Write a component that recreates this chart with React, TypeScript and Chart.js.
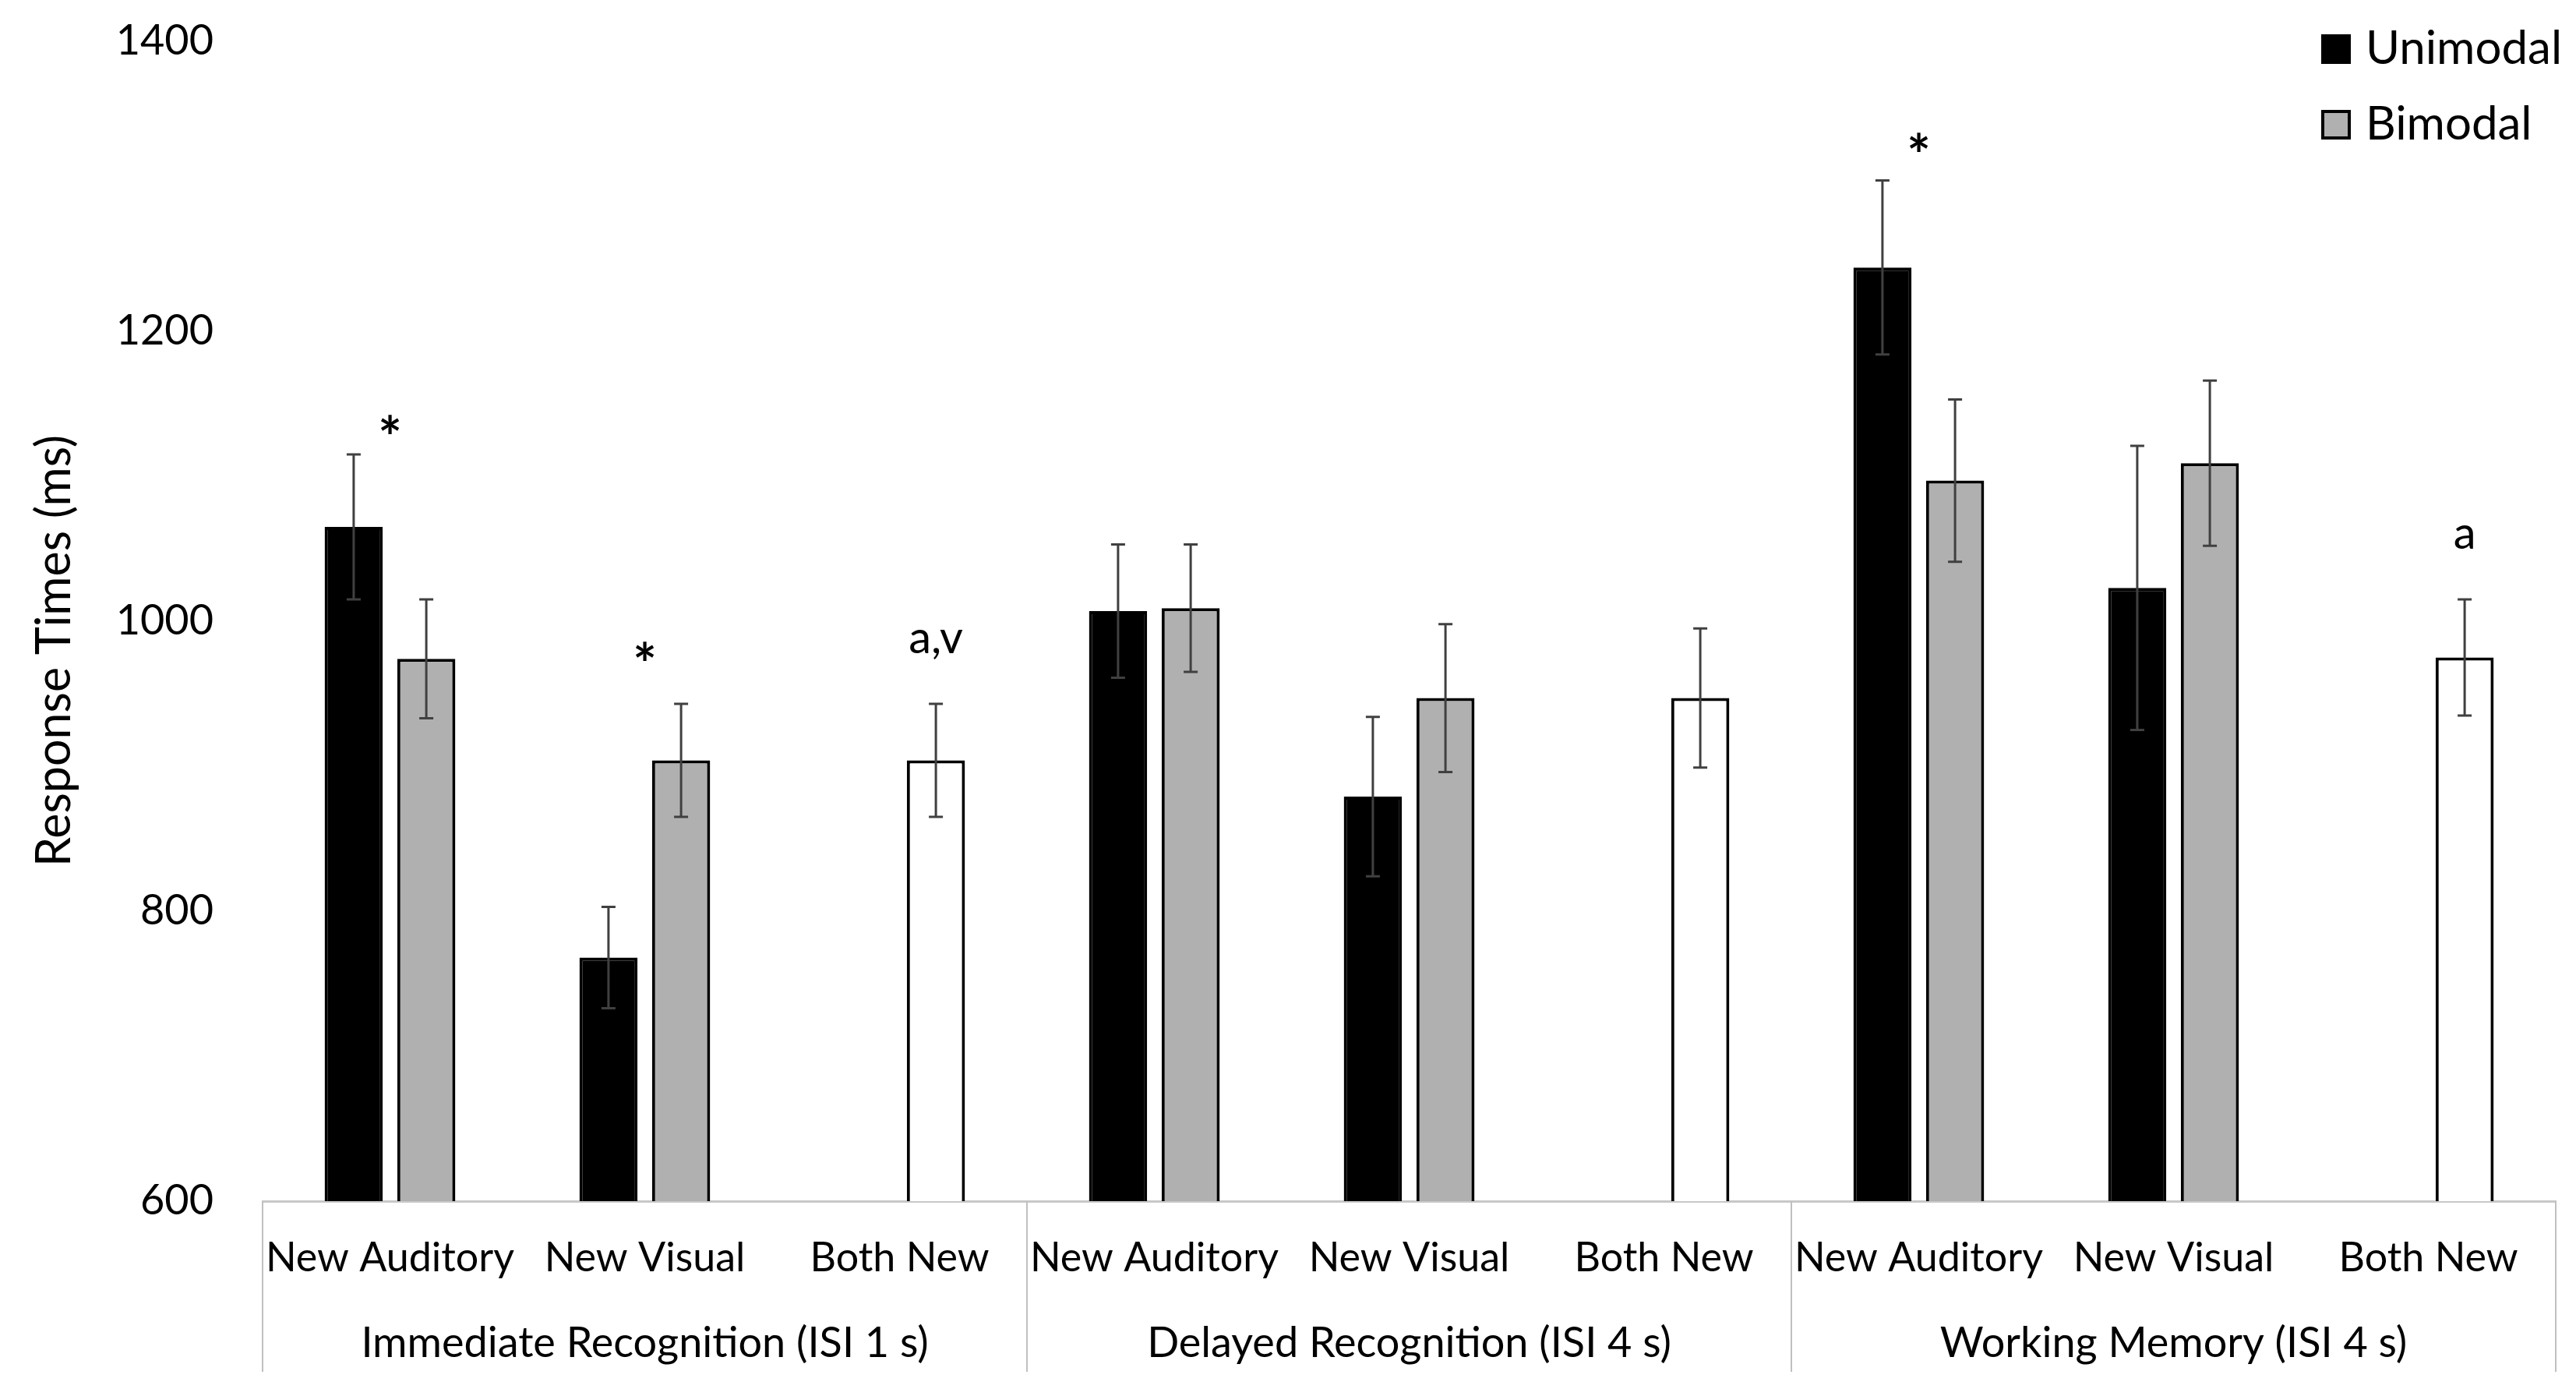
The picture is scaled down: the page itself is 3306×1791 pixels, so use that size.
import { useEffect, useRef } from 'react';
import { Chart, registerables } from 'chart.js';

Chart.register(...registerables);

const conditions = [
  'New Auditory', 'New Visual', 'Both New',
  'New Auditory', 'New Visual', 'Both New',
  'New Auditory', 'New Visual', 'Both New',
];
const groups = [
  'Immediate Recognition (ISI 1 s)',
  'Delayed Recognition (ISI 4 s)',
  'Working Memory (ISI 4 s)',
];
const unimodal = [1065, 768, null, 1007, 879, null, 1244, 1023, null];
const unimodalErr = [50, 35, null, 46, 55, null, 60, 98, null];
// "Both New" bars sit in the bimodal slot and are drawn white
const bimodal = [974, 904, 904, 1009, 947, 947, 1097, 1109, 975];
const bimodalErr = [41, 39, 39, 44, 51, 48, 56, 57, 40];
const yTicks = [600, 800, 1000, 1200, 1400];
// significance marks: category index, text, height in ms
const marks = [
  { index: 0, text: '*', value: 1130 },
  { index: 1, text: '*', value: 974 },
  { index: 2, text: 'a,v', value: 988 },
  { index: 6, text: '*', value: 1325 },
  { index: 8, text: 'a', value: 1060 },
];

const FONT = 'Lato, "Open Sans", sans-serif';
const GREY = '#b0b0b0';

const extras = {
  id: 'extras',
  afterDatasetsDraw(chart) {
    const { ctx, scales } = chart;
    const x = scales.x;
    const y = scales.y;
    const errs = [unimodalErr, bimodalErr];

    // error bars
    ctx.save();
    ctx.strokeStyle = '#404040';
    ctx.lineWidth = 3;
    errs.forEach((err, d) => {
      const meta = chart.getDatasetMeta(d);
      const vals = chart.data.datasets[d].data;
      meta.data.forEach((bar, i) => {
        if (vals[i] == null || err[i] == null) return;
        const top = y.getPixelForValue(vals[i] + err[i]);
        const bot = y.getPixelForValue(vals[i] - err[i]);
        ctx.beginPath();
        ctx.moveTo(bar.x, top);
        ctx.lineTo(bar.x, bot);
        ctx.moveTo(bar.x - 9, top);
        ctx.lineTo(bar.x + 9, top);
        ctx.moveTo(bar.x - 9, bot);
        ctx.lineTo(bar.x + 9, bot);
        ctx.stroke();
      });
    });

    // significance marks
    ctx.fillStyle = '#000';
    ctx.textAlign = 'center';
    ctx.textBaseline = 'middle';
    const biMeta = chart.getDatasetMeta(1);
    marks.forEach((m) => {
      const star = m.text === '*';
      const px = star ? x.getPixelForValue(m.index) : biMeta.data[m.index].x;
      ctx.font = star ? `bold 72px ${FONT}` : `58px ${FONT}`;
      ctx.fillText(m.text, px, y.getPixelForValue(m.value) + (star ? 10 : 0));
    });
    ctx.restore();
  },
  afterDraw(chart) {
    const { ctx, chartArea, scales } = chart;
    const x = scales.x;
    ctx.save();

    // group separators and group labels
    ctx.strokeStyle = '#c0c0c0';
    ctx.lineWidth = 2;
    const bounds = [0, 1, 2, 3].map((k) => {
      if (k === 0) return chartArea.left;
      if (k === 3) return chartArea.right;
      return (x.getPixelForValue(3 * k - 1) + x.getPixelForValue(3 * k)) / 2;
    });
    bounds.forEach((bx) => {
      ctx.beginPath();
      ctx.moveTo(bx, chartArea.bottom);
      ctx.lineTo(bx, chartArea.bottom + 219);
      ctx.stroke();
    });
    ctx.fillStyle = '#000';
    ctx.font = `54px ${FONT}`;
    ctx.textAlign = 'center';
    ctx.textBaseline = 'middle';
    groups.forEach((g, k) => {
      const gx = (x.getPixelForValue(3 * k) + x.getPixelForValue(3 * k + 2)) / 2;
      ctx.fillText(g, gx, chartArea.bottom + 183);
    });

    // y axis title
    ctx.save();
    ctx.translate(70, 835);
    ctx.rotate(-Math.PI / 2);
    ctx.font = `61px ${FONT}`;
    ctx.fillText('Response Times (ms)', 0, 0);
    ctx.restore();

    // legend
    const items = chart.data.datasets.map((ds) => ({ label: ds.label, color: ds.legendColor }));
    ctx.textAlign = 'left';
    ctx.font = `60px ${FONT}`;
    items.forEach((it, i) => {
      const top = 44 + i * 97;
      ctx.fillStyle = it.color;
      ctx.fillRect(2979, top, 38, 38);
      ctx.strokeStyle = '#000';
      ctx.lineWidth = 4;
      ctx.strokeRect(2981, top + 2, 34, 34);
      ctx.fillStyle = '#000';
      ctx.fillText(it.label, 3036, top + 19);
    });
    ctx.restore();
  },
};

export default function App() {
  const canvasRef = useRef(null);

  useEffect(() => {
    const chart = new Chart(canvasRef.current.getContext('2d'), {
      type: 'bar',
      data: {
        labels: conditions,
        datasets: [
          {
            label: 'Unimodal',
            data: unimodal,
            backgroundColor: '#000',
            borderColor: '#000',
            borderWidth: 4,
            legendColor: '#000',
          },
          {
            label: 'Bimodal',
            data: bimodal,
            backgroundColor: conditions.map((c) => (c === 'Both New' ? '#fff' : GREY)),
            borderColor: '#000',
            borderWidth: 4,
            legendColor: GREY,
          },
        ],
      },
      options: {
        animation: false,
        responsive: true,
        maintainAspectRatio: false,
        categoryPercentage: 0.57,
        barPercentage: 0.8,
        layout: { padding: { top: 53, right: 26, left: 0, bottom: 0 } },
        plugins: {
          legend: { display: false },
          tooltip: { enabled: false },
        },
        scales: {
          x: {
            grid: { display: false },
            border: { color: '#c8c8c8', width: 3 },
            ticks: {
              color: '#000',
              font: { family: FONT, size: 52 },
              padding: 34,
              maxRotation: 0,
              autoSkip: false,
            },
            afterFit: (s) => { s.height = 250; },
          },
          y: {
            min: 600,
            max: 1400,
            grid: {
              display: true,
              color: 'rgba(0,0,0,0)',
              drawOnChartArea: false,
              drawTicks: true,
              tickLength: 63,
            },
            border: { display: false },
            ticks: {
              color: '#000',
              font: { family: FONT, size: 54 },
              padding: 0,
              callback: (v) => String(v),
            },
            afterBuildTicks: (s) => { s.ticks = yTicks.map((v) => ({ value: v })); },
            afterFit: (s) => { s.width = 337; },
          },
        },
      },
      plugins: [extras],
    });
    return () => chart.destroy();
  }, []);

  return (
    <div style={{ position: 'fixed', left: 0, top: 0, width: 3306, height: 1791, background: '#fff' }}>
      <canvas ref={canvasRef} />
    </div>
  );
}
